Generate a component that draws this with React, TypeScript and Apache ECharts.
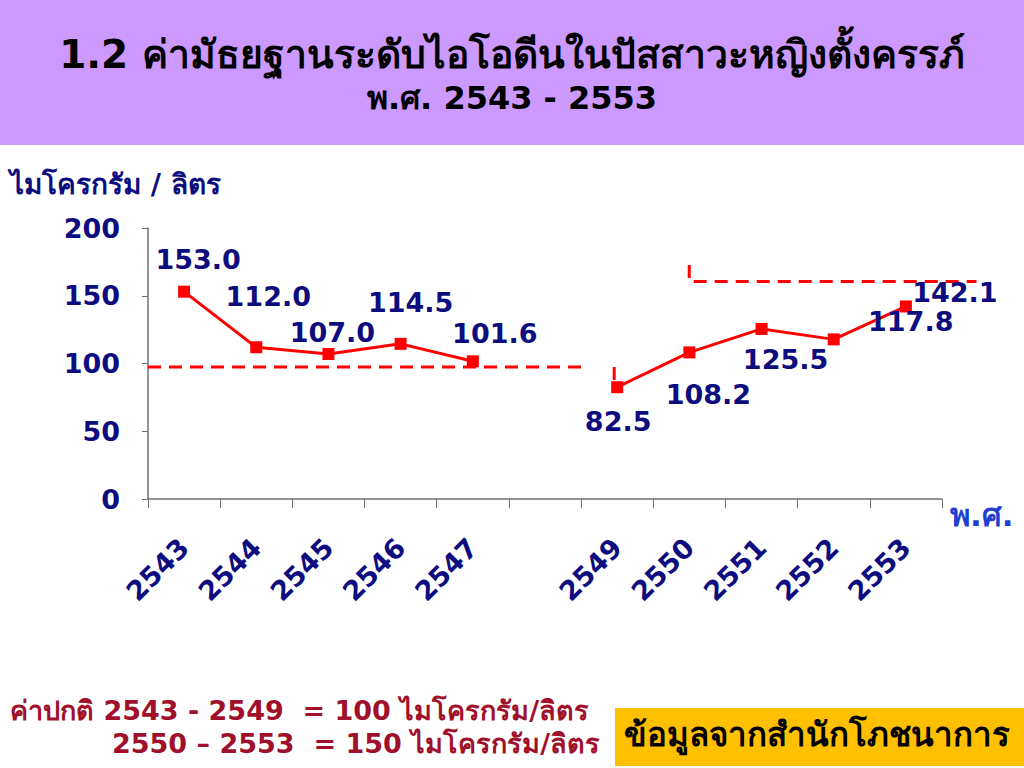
import React, { useEffect, useRef } from "react";
import * as echarts from "echarts";

const categories = ["2543", "2544", "2545", "2546", "2547", "", "2549", "2550", "2551", "2552", "2553"];
const medianValues: (number | null)[] = [153.0, 112.0, 107.0, 114.5, 101.6, null, 82.5, 108.2, 125.5, 117.8, 142.1];
const yTicks = { min: 0, max: 200, interval: 50 };
// reference (normal) dashed lines in [category-position, value]
const normLine1: number[][] = [[0, 97.4], [6.02, 97.4]];
const normTick1: number[][] = [[6.46, 97.4], [6.46, 85]];
const normLine2: number[][] = [[7.5, 172.7], [7.5, 160.5], [11.48, 160.5]];

const labelOffsets: number[][] = [
  [14, -32], [12, -51], [4, -22], [10, -41], [22, -28], [0, 0],
  [1, 34], [19, 42], [24, 31], [77, -18], [49, -14],
];

const NAVY = "#0d0d80";
const FONT = "'DejaVu Sans', Verdana, 'Noto Sans', sans-serif";

export default function App() {
  const ref = useRef<HTMLDivElement>(null);
  useEffect(() => {
    if (!ref.current) return;
    const chart = echarts.init(ref.current, undefined, { renderer: "svg" });
    const dashStyle = { color: "#ff0000", width: 3, type: [13, 8] as any };
    const dashSeries = (data: number[][]) => ({
      type: "line",
      xAxisIndex: 1,
      yAxisIndex: 1,
      data,
      symbol: "none",
      clip: false,
      lineStyle: dashStyle,
      silent: true,
      z: 1,
    });
    chart.setOption({
      animation: false,
      backgroundColor: "#ffffff",
      graphic: [
        { type: "rect", left: 0, top: 0, shape: { width: 1024, height: 145 }, style: { fill: "#cc99ff" }, z: 0 },
        {
          type: "text", left: "center", top: 35,
          style: { text: "1.2 ค่ามัธยฐานระดับไอโอดีนในปัสสาวะหญิงตั้งครรภ์", fill: "#000", font: `bold 39px ${FONT}` },
        },
        {
          type: "text", left: "center", top: 82,
          style: { text: "พ.ศ. 2543 - 2553", fill: "#000", font: `bold 32px ${FONT}` },
        },
        {
          type: "text", left: 10, top: 170,
          style: { text: "ไมโครกรัม / ลิตร", fill: NAVY, font: `bold 28px ${FONT}` },
        },
        {
          type: "text", left: 10, top: 697,
          style: { text: "ค่าปกติ 2543 - 2549  = 100 ไมโครกรัม/ลิตร", fill: "#a0102a", font: `bold 27px ${FONT}` },
        },
        {
          type: "text", left: 112, top: 730,
          style: { text: "2550 – 2553  = 150 ไมโครกรัม/ลิตร", fill: "#a0102a", font: `bold 27px ${FONT}` },
        },
        { type: "rect", left: 615, top: 708, shape: { width: 420, height: 58 }, style: { fill: "#ffc000" } },
        {
          type: "text", left: 624, top: 718,
          style: { text: "ข้อมูลจากสำนักโภชนาการ", fill: "#000", font: `bold 33px ${FONT}` },
        },
      ],
      grid: [
        { left: 148, right: 82, top: 228, bottom: 269, containLabel: false },
        { left: 148, width: 866, top: 228, bottom: 269, containLabel: false },
      ],
      xAxis: [
        {
          type: "category",
          gridIndex: 0,
          data: categories,
          boundaryGap: true,
          axisLine: { lineStyle: { color: "#707070", width: 1.5 } },
          axisTick: { show: true, length: 9, lineStyle: { color: "#707070" } },
          axisLabel: { rotate: 45, margin: 44, color: NAVY, fontSize: 27, fontWeight: "bold", fontFamily: FONT, interval: 0 },
          name: "พ.ศ.",
          nameLocation: "end",
          nameGap: 8,
          nameTextStyle: { color: "#1f3fd0", fontSize: 31, fontWeight: "bold", fontFamily: FONT, verticalAlign: "top", padding: [0, 0, 0, 0] },
        },
        { type: "value", gridIndex: 1, min: 0, max: 12, show: false },
      ],
      yAxis: [
        {
          type: "value",
          gridIndex: 0,
          min: yTicks.min,
          max: yTicks.max,
          interval: yTicks.interval,
          splitLine: { show: false },
          axisLine: { show: true, lineStyle: { color: "#707070", width: 1.5 } },
          axisTick: { show: true, length: 6, lineStyle: { color: "#707070" } },
          axisLabel: { margin: 28, color: NAVY, fontSize: 27, fontWeight: "bold", fontFamily: FONT },
        },
        { type: "value", gridIndex: 1, min: yTicks.min, max: yTicks.max, show: false },
      ],
      series: [
        dashSeries(normLine1),
        dashSeries(normTick1),
        dashSeries(normLine2),
        {
          type: "line",
          xAxisIndex: 0,
          yAxisIndex: 0,
          data: medianValues.map((v, i) =>
            v === null
              ? null
              : { value: v, label: { offset: labelOffsets[i] } }
          ),
          connectNulls: false,
          symbol: "rect",
          symbolSize: 12,
          itemStyle: { color: "#ff0000" },
          lineStyle: { color: "#ff0000", width: 3 },
          label: {
            show: true,
            position: "inside",
            align: "center",
            verticalAlign: "middle",
            color: NAVY,
            fontSize: 27,
            fontWeight: "bold",
            fontFamily: FONT,
            formatter: (p: any) => Number(p.value).toFixed(1),
          },
          z: 3,
        },
      ],
    });
    return () => chart.dispose();
  }, []);
  return <div ref={ref} style={{ position: "absolute", left: 0, top: 0, width: 1024, height: 768 }} />;
}
